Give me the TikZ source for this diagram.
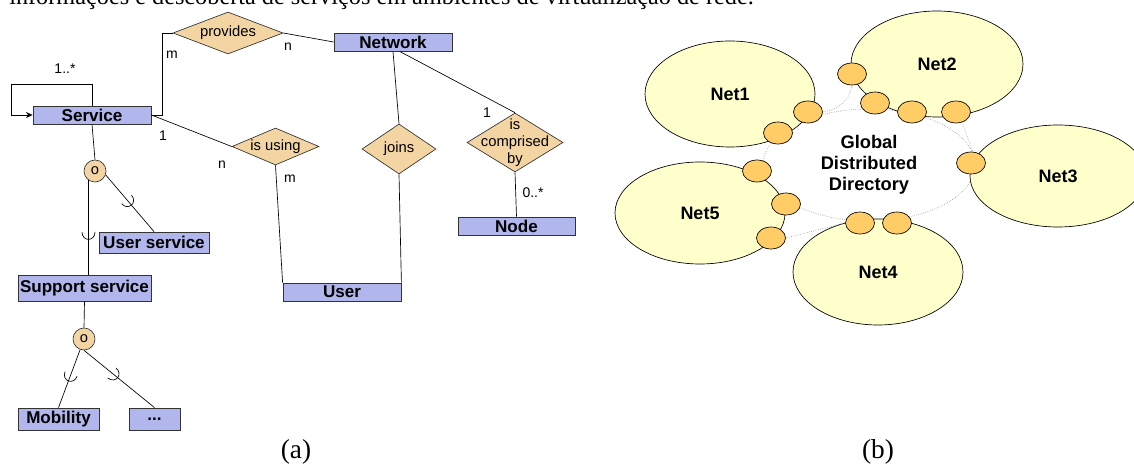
\documentclass[tikz,border=0pt]{standalone}
\usepackage{fontspec}
\setmainfont{Liberation Sans}
\newfontfamily\serifrm{Liberation Serif}
\usetikzlibrary{shapes.geometric,arrows.meta,decorations.markings,calc}

\definecolor{entfill}{HTML}{B1B6EC}
\definecolor{relfill}{HTML}{F3D5A3}
\definecolor{netfill}{HTML}{FFFFCC}
\definecolor{portfill}{HTML}{FFCC66}
\definecolor{edgegray}{HTML}{333333}

\pgfdeclarelayer{back}
\pgfdeclarelayer{mid}
\pgfsetlayers{back,mid,main}

\tikzset{
  entity/.style={draw=edgegray, line width=0.6pt, fill=entfill, inner sep=0pt,
    font=\fontsize{12.8}{14}\selectfont\bfseries},
  rel/.style={diamond, draw=edgegray, line width=0.5pt, fill=relfill, inner sep=0pt},
  reltext/.style={font=\fontsize{11.1}{12.75}\selectfont, align=center, inner sep=0pt},
  gen/.style={circle, draw=edgegray, line width=0.5pt, fill=relfill, inner sep=0pt,
    minimum size=22*.75pt, font=\fontsize{11}{12}\selectfont},
  conn/.style={line width=0.5pt},
  mult/.style={font=\fontsize{10.5}{12}\selectfont, inner sep=0pt},
  subset/.style={postaction={decorate}, decoration={markings,
    mark=at position #1 with {\draw[line width=0.5pt] (-5,6.5) .. controls (5,6.5) and (5,-6.5) .. (-5,-6.5);}}},
  net/.style={ellipse, draw, line width=0.5pt, fill=netfill, inner sep=0pt,
    font=\fontsize{13.5}{15}\selectfont\bfseries},
  port/.style={ellipse, draw, line width=0.5pt, fill=portfill,
    minimum width=29*.75pt, minimum height=22*.75pt, inner sep=0pt},
  dir/.style={densely dotted, draw=gray, line width=0.4pt},
  caption/.style={font=\serifrm\fontsize{20.5}{24}\selectfont, inner sep=0pt},
  toptext/.style={font=\serifrm\fontsize{18.2}{22}\selectfont, inner sep=0pt},
}

\begin{document}
\begin{tikzpicture}[x=0.75pt,y=-0.75pt]
\useasboundingbox (0,0) rectangle (1134,466);
\clip (0,0) rectangle (1134,466);

% cut-off text line at the top
\node[toptext, anchor=base west] (title) at (9,4.5)
  {informações e descoberta de serviços em ambientes de virtualização de rede.};

% ---------- (a) ER diagram ----------
\node[entity, minimum width=118*.75pt, minimum height=18*.75pt] (service) at (92,115) {Service};
\node[entity, minimum width=118*.75pt, minimum height=18*.75pt] (network) at (393,42) {Network};
\node[entity, minimum width=118*.75pt, minimum height=18*.75pt] (user) at (342,292) {User};
\node[entity, minimum width=117*.75pt, minimum height=18*.75pt] (node) at (516.5,226) {Node};
\node[entity, minimum width=110*.75pt, minimum height=21*.75pt] (userservice) at (154,242.5) {User service};
\node[entity, minimum width=133*.75pt, minimum height=26*.75pt] (support) at (84.5,288) {Support service};
\node[entity, minimum width=81*.75pt, minimum height=22*.75pt] (mobility) at (58.5,419) {Mobility};
\node[entity, minimum width=51*.75pt, minimum height=22*.75pt] (dots) at (154.5,419) {...};

\node[rel, minimum width=110*.75pt, minimum height=42*.75pt,
  label={[reltext]center:provides}] (provides) at (228,33) {};
\node[rel, minimum width=87*.75pt, minimum height=37*.75pt,
  label={[reltext]center:is using}] (using) at (275.5,146.5) {};
\node[rel, minimum width=74*.75pt, minimum height=50*.75pt,
  label={[reltext]center:joins}] (joins) at (399,149) {};
\node[rel, minimum width=96*.75pt, minimum height=59*.75pt,
  label={[reltext]center:is\\comprised\\by}] (comprised) at (515,142.5) {};

\node[gen] (o1) at (95,171) {o};
\node[gen] (o2) at (84,339) {o};

% connectors
\draw[conn, -{Stealth[length=5pt,width=4.5pt]}] (service.north) |- (11,84) |- (service.west);
\draw[conn] (service.east) -| (162,33) -- (provides.west);
\draw[conn] (provides.east) -- (network.west);
\draw[conn] (service.east) -- (using.west);
\draw[conn] (using.south) -- (user.north west);
\draw[conn] (network.south) -- (joins.north);
\draw[conn] (joins.south) -- (user.north east);
\draw[conn] ([xshift=5pt]network.south) -- (comprised.north);
\draw[conn] (comprised.south) -- (node.north);
\draw[conn] (service.south) -- (o1.north);
\draw[conn, subset=0.6] (o1.235) -- (o1.235 |- support.north);
\draw[conn, subset=0.5] (o1.-20) -- (userservice.north);
\draw[conn] (support.south) -- (o2.north);
\draw[conn, subset=0.5] (o2.250) -- (mobility.north);
\draw[conn, subset=0.45] (o2.south) -- (dots.north);

% multiplicities
\node[mult] (mloop) at (65,69) {1..*};
\node[mult] (mprovm) at (172,55) {m};
\node[mult] (mprovn) at (288,47) {n};
\node[mult] (muse1) at (163,136) {1};
\node[mult] (musen) at (222,165) {n};
\node[mult] (musem) at (290,179) {m};
\node[mult] (mcomp1) at (487,113) {1};
\node[mult] (mcomp0) at (533,193) {0..*};

\node[caption, anchor=base] (capa) at (296,458) {(a)};

% ---------- (b) networks ----------
\begin{pgfonlayer}{back}
\node[ellipse, dir, minimum width=212*.75pt, minimum height=112*.75pt, inner sep=0pt,
  align=center, font=\fontsize{13.7}{15.75}\selectfont\bfseries] (gdd) at (869,165)
  {Global\\Distributed\\Directory};
\node[net, minimum width=170*.75pt, minimum height=106*.75pt] (net1) at (730,94) {Net1};
\node[net, minimum width=172*.75pt, minimum height=106*.75pt] (net2) at (937,64) {Net2};
\node[net, minimum width=176*.75pt, minimum height=102*.75pt] (net3) at (1058,176) {Net3};
\node[net, minimum width=170*.75pt, minimum height=106*.75pt] (net4) at (878,272) {Net4};
\node[net, minimum width=170*.75pt, minimum height=102*.75pt] (net5) at (700,213) {Net5};
\end{pgfonlayer}

\coordinate (k1) at (849,101);
\coordinate (k2) at (838,110);
\node[port] (p1) at (852,74) {};
\node[port] (p2) at (808,112) {};
\node[port] (p3) at (778,133) {};
\node[port] (p4) at (875,103) {};
\node[port] (p5) at (912,112) {};
\node[port] (p6) at (956,112) {};
\node[port] (p7) at (971,163) {};
\node[port] (p8) at (757,171) {};
\node[port] (p9) at (786,204) {};
\node[port] (p10) at (771,238) {};
\node[port] (p11) at (860,223) {};
\node[port] (p12) at (897,223) {};

\begin{pgfonlayer}{mid}
\draw[dir] (p1.south) .. controls (k1) and (k2) .. (p2.east);
\draw[dir] (p6.-60) -- (p7.80);
\draw[dir] (p10.east) -- (p11.west);
\end{pgfonlayer}

\node[caption, anchor=base] (capb) at (878,458) {(b)};
\end{tikzpicture}
\end{document}
